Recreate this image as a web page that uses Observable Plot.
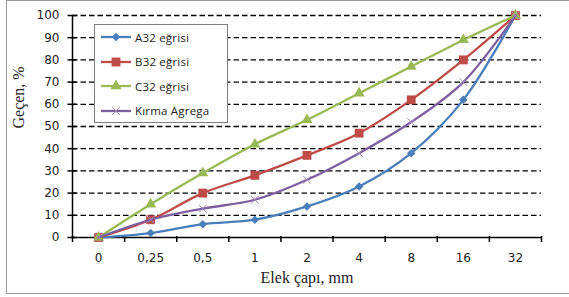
<!DOCTYPE html>
<html>
<head>
<meta charset="utf-8">
<script src="https://cdn.jsdelivr.net/npm/d3@7"></script>
<script src="https://cdn.jsdelivr.net/npm/@observablehq/plot@0.6"></script>
<style>
  body { margin: 0; background: #fff; }
  #wrap { position: relative; width: 569px; height: 297px; overflow: hidden; background: #fff; }
  #wrap svg.plot { position: absolute; left: 0; top: 0; }
  #frame { position: absolute; left: 6px; top: 0px; width: 600px; height: 294px; border: 1.5px solid #9a9a9a; box-sizing: border-box; pointer-events: none; }
  #legend { position: absolute; left: 94px; top: 24px; width: 134px; height: 99px; border: 1px solid #7f7f7f; background: #fff; box-sizing: border-box; }
  .item { position: absolute; left: 5px; height: 14px; display: flex; align-items: center; font-family: "Open Sans", sans-serif; font-size: 11.5px; color: #222; letter-spacing: 0.2px; }
  .item svg { margin-right: 3px; }
</style>
</head>
<body>
<div id="wrap"><div id="frame"></div></div>
<script>
// ---- data ----
const categories = ["0", "0,25", "0,5", "1", "2", "4", "8", "16", "32"];
const seriesNames = ["A32 eğrisi", "B32 eğrisi", "C32 eğrisi", "Kırma Agrega"];
const a32 = [0, 2, 6, 8, 14, 23, 38, 62, 100];
const b32 = [0, 8, 20, 28, 37, 47, 62, 80, 100];
const c32 = [0, 15, 29, 42, 53, 65, 77, 89, 100];
const kirma = [0, 8, 13, 17, 26, 38, 52, 70, 100];
const yTicks = [0, 10, 20, 30, 40, 50, 60, 70, 80, 90, 100];
const xTitle = "Elek çapı, mm";
const yTitle = "Geçen, %";

// ---- styling ----
const colors = ["#4A7EBB", "#BE4B48", "#98B954", "#7D60A0"];
const symbols = ["square", "square", "triangle", "times"];
const rotations = [45, 0, 0, 0];
const radii = [3.4, 5.0, 4.1, 3.6];

const allSeries = [a32, b32, c32, kirma];
const data = allSeries.flatMap((vals, s) => vals.map((v, i) => ({ s, name: seriesNames[s], i, v })));
const bounds = d3.range(categories.length + 1).map(i => i - 0.5);

const marks = [
  Plot.ruleY(yTicks.filter(v => v > 0), { stroke: "#000", strokeWidth: 1.3, strokeDasharray: "5.5,3" }),
  Plot.ruleX([bounds[0]], { stroke: "#000", strokeWidth: 1.5 }),
  Plot.ruleY([0], { stroke: "#000", strokeWidth: 1.5 }),
  Plot.ruleY(yTicks, { x1: bounds[0], x2: bounds[0], insetLeft: -4.5, insetRight: -4.5, stroke: "#000", strokeWidth: 1.5 }),
  Plot.ruleX(bounds, { y1: 0, y2: 0, insetTop: -1, insetBottom: -5, stroke: "#000", strokeWidth: 1.5 }),
  Plot.axisY({ ticks: yTicks, label: null, tickSize: 0, tickPadding: 13, fontFamily: "DejaVu Sans", fontSize: 12, letterSpacing: 0.8, fill: "#222" }),
  Plot.axisX({ ticks: d3.range(categories.length), label: null, tickFormat: i => categories[i], tickSize: 0, tickPadding: 16, fontFamily: "DejaVu Sans", fontSize: 12, letterSpacing: 0.8, fill: "#222" }),
  Plot.text([xTitle], { frameAnchor: "bottom", dy: 45, fontFamily: "Liberation Serif", fontSize: 16, letterSpacing: 1.2, fill: "#222" }),
  Plot.text([yTitle], { frameAnchor: "left", dx: -54, dy: 2, rotate: -90, fontFamily: "Liberation Serif", fontSize: 16, letterSpacing: 0.8, fill: "#222" })
];
allSeries.forEach((vals, s) => {
  const d = data.filter(r => r.s === s);
  marks.push(Plot.line(d, { x: "i", y: "v", stroke: colors[s], strokeWidth: 2.3, curve: "catmull-rom" }));
  marks.push(Plot.dot(d, {
    x: "i", y: "v", symbol: () => symbols[s], r: radii[s], rotate: rotations[s],
    fill: symbols[s] === "times" ? "none" : colors[s],
    stroke: symbols[s] === "times" ? "#9b86bb" : "none", strokeWidth: 1
  }));
});

const chart = Plot.plot({
  width: 569, height: 297,
  marginLeft: 72, marginRight: 28, marginTop: 15, marginBottom: 60,
  x: { type: "linear", domain: [bounds[0], bounds[bounds.length - 1]], axis: null },
  y: { domain: [0, 100], axis: null },
  style: { background: "transparent", overflow: "visible" },
  marks
});
chart.classList.add("plot");
const wrap = document.getElementById("wrap");
wrap.insertBefore(chart, wrap.firstChild);

// ---- legend ----
const legend = document.createElement("div");
legend.id = "legend";
const symTypes = { square: d3.symbolSquare, triangle: d3.symbolTriangle, times: d3.symbolTimes };
seriesNames.forEach((name, s) => {
  const item = document.createElement("div");
  item.className = "item";
  item.style.top = (5 + s * 24.5) + "px";
  const svg = d3.create("svg").attr("width", 32).attr("height", 14);
  svg.append("line").attr("x1", 1).attr("x2", 31).attr("y1", 7).attr("y2", 7).attr("stroke", colors[s]).attr("stroke-width", 2.3);
  const path = d3.symbol().type(symTypes[symbols[s]]).size(radii[s] * radii[s] * Math.PI)();
  svg.append("path").attr("d", path)
    .attr("transform", `translate(16,7) rotate(${rotations[s]})`)
    .attr("fill", symbols[s] === "times" ? "none" : colors[s])
    .attr("stroke", symbols[s] === "times" ? "#9b86bb" : "none");
  item.appendChild(svg.node());
  const t = document.createElement("span");
  t.textContent = name;
  item.appendChild(t);
  legend.appendChild(item);
});
wrap.appendChild(legend);
</script>
</body>
</html>
